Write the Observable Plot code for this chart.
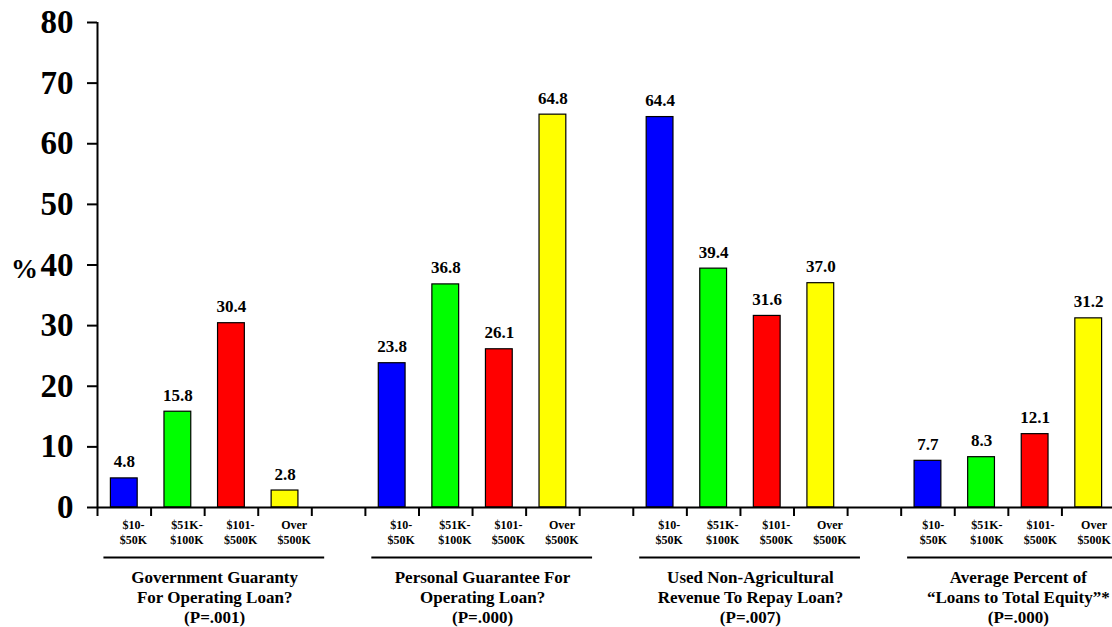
<!DOCTYPE html>
<html>
<head>
<meta charset="utf-8">
<script src="https://cdn.jsdelivr.net/npm/d3@7"></script>
<script src="https://cdn.jsdelivr.net/npm/@observablehq/plot@0.6"></script>
<style>
  html, body { margin: 0; padding: 0; background: #fff; }
</style>
</head>
<body>
<div id="chart"></div>
<script>
const categories = ["$10-\n$50K", "$51K-\n$100K", "$101-\n$500K", "Over\n$500K"];
const groups = [
  "Government Guaranty\nFor Operating Loan?\n(P=.001)",
  "Personal Guarantee For\nOperating Loan?\n(P=.000)",
  "Used Non-Agricultural\nRevenue To Repay Loan?\n(P=.007)",
  "Average Percent of\n\u201CLoans to Total Equity\u201D*\n(P=.000)"
];
const colors = ["#0000FF", "#00FF00", "#FF0000", "#FFFF00"];
// values per category across the four groups
const s10_50 = [4.8, 23.8, 64.4, 7.7];
const s51_100 = [15.8, 36.8, 39.4, 8.3];
const s101_500 = [30.4, 26.1, 31.6, 12.1];
const sOver500 = [2.8, 64.8, 37.0, 31.2];
const series = [s10_50, s51_100, s101_500, sOver500];
const yTicks = [0, 10, 20, 30, 40, 50, 60, 70, 80];

const slotsPerGroup = 5; // 4 bars + 1 gap slot
const bars = [];
groups.forEach((g, gi) => {
  categories.forEach((c, ci) => {
    const slot = gi * slotsPerGroup + ci;
    bars.push({group: g, category: c, color: colors[ci], value: series[ci][gi], slot, gi});
  });
});
const boundaries = [];
groups.forEach((g, gi) => { for (let k = 0; k <= 4; k++) boundaries.push(gi * slotsPerGroup + k); });
const groupInfo = groups.map((g, gi) => ({title: g, start: gi * slotsPerGroup}));

const font = '"Liberation Serif", "Times New Roman", Times, serif';

const chart = Plot.plot({
  width: 1112,
  height: 627,
  marginTop: 22,
  marginBottom: 120,
  marginLeft: 97,
  marginRight: 0,
  style: {fontFamily: font, fontWeight: "bold", background: "#fff", color: "#000", overflow: "visible"},
  x: {type: "linear", domain: [0, 19], range: [97, 1115], axis: null},
  y: {domain: [0, 80], axis: null},
  marks: [
    Plot.rectY(bars, {x1: d => d.slot + 0.25, x2: d => d.slot + 0.75, y1: 0, y2: "value", fill: d => d.color, stroke: "#000", strokeWidth: 1.2}),
    Plot.text(bars, {x: d => d.slot + 0.5, y: "value", text: d => d.value.toFixed(1), lineAnchor: "bottom", dy: -11, fontSize: 17, fontWeight: "bold"}),
    Plot.ruleY([0], {stroke: "#000", strokeWidth: 2}),
    Plot.ruleX([0], {y1: 0, y2: 80, stroke: "#000", strokeWidth: 2}),
    Plot.axisY(yTicks, {tickSize: 10, tickPadding: 14, fontSize: 33, fontWeight: "bold", strokeWidth: 2, label: null}),
    Plot.axisX(boundaries, {tickSize: 9, tickFormat: () => "", strokeWidth: 2, label: null}),
    Plot.text(bars, {x: d => d.slot + 0.5 + (d.gi === 3 ? 0.1 : 0.17), y: 0, text: "category", lineAnchor: "top", dy: 11, fontSize: 12, fontWeight: "bold", lineHeight: 1.25}),
    Plot.ruleY(groupInfo, {y: 0, x1: d => d.start + 0.12, x2: d => d.start + 4.24, dy: 50, stroke: "#000", strokeWidth: 2}),
    Plot.text(groupInfo, {x: d => d.start + 2, y: 0, text: "title", lineAnchor: "top", dy: 61, dx: 10, fontSize: 17, fontWeight: "bold", lineHeight: 1.18}),
    Plot.text(["%"], {frameAnchor: "left", text: d => d, textAnchor: "middle", dx: -73, dy: 4, fontSize: 27, fontWeight: "bold"})
  ]
});
document.getElementById("chart").appendChild(chart);
</script>
</body>
</html>
